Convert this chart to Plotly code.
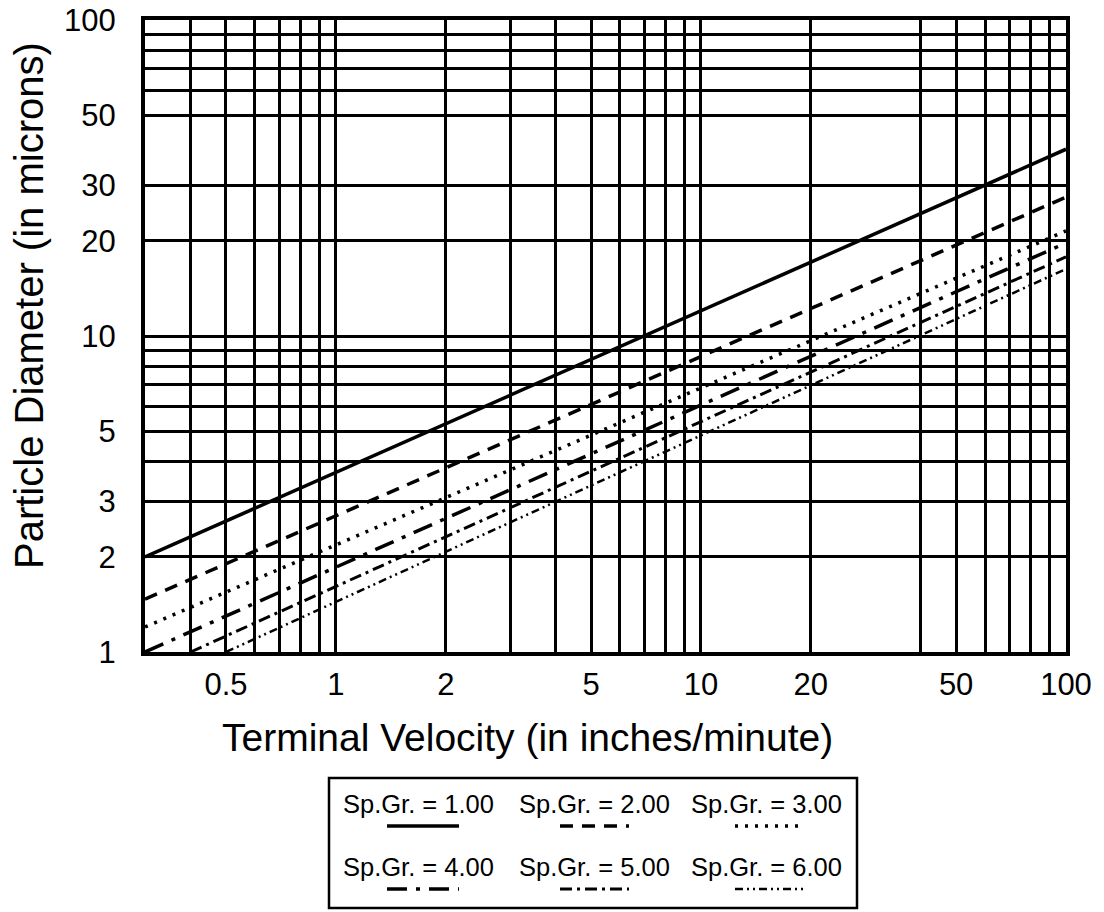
import math
import plotly.graph_objects as go

# ---- data ----
series_names = ["Sp.Gr. = 1.00", "Sp.Gr. = 2.00", "Sp.Gr. = 3.00",
                "Sp.Gr. = 4.00", "Sp.Gr. = 5.00", "Sp.Gr. = 6.00"]
velocity_start = [0.3, 0.3, 0.3, 0.3, 0.4, 0.5]
velocity_end = [100, 100, 100, 100, 100, 100]
diameter_start = [2.0, 1.47, 1.2, 1.0, 1.0, 1.0]
diameter_end = [39.0, 27.5, 21.5, 19.7, 17.8, 16.3]

x_grid_vals = [0.4, 0.5, 0.6, 0.7, 0.8, 0.9, 1, 2, 3, 4, 5, 6, 7, 8, 9,
               10, 20, 40, 50, 60, 70, 80, 90, 100]
x_tick_labels = {0.5: "0.5", 1: "1", 2: "2", 5: "5", 10: "10", 20: "20",
                 50: "50", 100: "100"}
y_grid_vals = [1, 2, 3, 4, 5, 6, 7, 8, 9, 10, 20, 30, 50, 60, 70, 80, 90, 100]
y_tick_labels = {1: "1", 2: "2", 3: "3", 5: "5", 10: "10", 20: "20",
                 30: "30", 50: "50", 100: "100"}

x_title = "Terminal Velocity (in inches/minute)"
y_title = "Particle Diameter (in microns)"

# ---- styles ----
dashes = ["solid", "13px,9px", "3px,7px", "20px,9px,4px,9px",
          "12px,5px,3px,5px", "8px,4px,2px,4px,2px,4px"]
widths = [3.5, 3.5, 3.5, 3.5, 3, 2.5]
FONT = "Liberation Sans, Arial, Helvetica, sans-serif"

W, H = 1104, 912
L, R, T, B = 145, 1066, 20, 652          # plot area in pixels

fig = go.Figure()
for name, v0, v1, d0, d1, dash, w in zip(series_names, velocity_start, velocity_end,
                                          diameter_start, diameter_end, dashes, widths):
    fig.add_trace(go.Scatter(x=[v0, v1], y=[d0, d1], mode="lines", name=name,
                             line=dict(color="black", width=w, dash=dash),
                             showlegend=False))

axis_common = dict(type="log", showgrid=True, gridcolor="black", gridwidth=2.5,
                   showline=True, linecolor="black", linewidth=4, mirror=True,
                   ticks="", zeroline=False, automargin=False,
                   ticklabeloverflow="allow",
                   tickfont=dict(family=FONT, size=31, color="black"))

fig.update_xaxes(**axis_common, range=[math.log10(0.3), 2],
                 tickmode="array", tickvals=x_grid_vals,
                 ticktext=[x_tick_labels.get(v, "") for v in x_grid_vals],
                 ticklabelstandoff=2)
fig.update_yaxes(**axis_common, range=[0, 2],
                 tickmode="array", tickvals=y_grid_vals,
                 ticktext=[y_tick_labels.get(v, "") for v in y_grid_vals],
                 ticklabelstandoff=19)


def px(xp):
    return (xp - L) / (R - L)


def py(yp):
    return (B - yp) / (B - T)


annotations = [
    dict(text=x_title, xref="paper", yref="paper", x=px(527), y=py(737),
         xanchor="center", yanchor="middle", showarrow=False,
         font=dict(family=FONT, size=39, color="black")),
    dict(text=y_title, xref="paper", yref="paper", x=px(29), y=py(306),
         xanchor="center", yanchor="middle", showarrow=False, textangle=-90,
         font=dict(family=FONT, size=40, color="black")),
]

# ---- custom legend below the plot (text above a line sample) ----
shapes = [dict(type="rect", xref="paper", yref="paper",
               x0=px(329), x1=px(857), y0=py(778), y1=py(908),
               line=dict(color="black", width=2.5), fillcolor="white")]
col_text_center = [418, 594, 766]
col_sample = [(387, 459), (560, 629), (735, 804)]
row_text_y = [804, 867]
row_sample_y = [826, 889]
for i, name in enumerate(series_names):
    r, c = divmod(i, 3)
    annotations.append(dict(text=name, xref="paper", yref="paper",
                            x=px(col_text_center[c]), y=py(row_text_y[r]),
                            xanchor="center", yanchor="middle", showarrow=False,
                            font=dict(family=FONT, size=25.5, color="black")))
    shapes.append(dict(type="line", xref="paper", yref="paper",
                       x0=px(col_sample[c][0]), x1=px(col_sample[c][1]),
                       y0=py(row_sample_y[r]), y1=py(row_sample_y[r]),
                       line=dict(color="black", width=widths[i], dash=dashes[i])))

fig.update_layout(width=W, height=H,
                  margin=dict(l=L, r=W - R, t=T, b=H - B),
                  plot_bgcolor="white", paper_bgcolor="white",
                  shapes=shapes, annotations=annotations, showlegend=False)

fig.write_html("out.html",
               config={"displayModeBar": False},
               post_script="document.body.style.margin='0';"
                           "document.body.style.overflow='hidden';")
